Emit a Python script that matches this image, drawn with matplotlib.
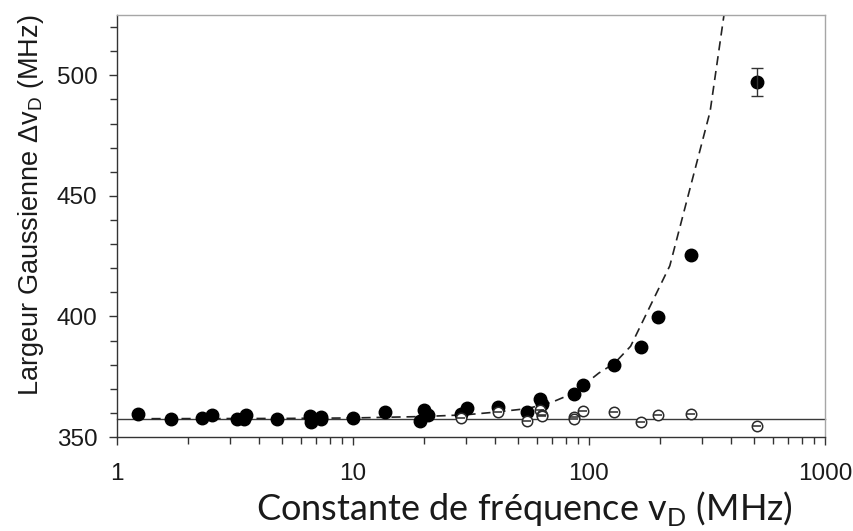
import matplotlib
matplotlib.use("Agg")
import matplotlib.pyplot as plt
from matplotlib.ticker import FixedLocator, NullFormatter, MultipleLocator

# ---- data ----
filled_x = [1.23, 1.69, 2.30, 2.53, 3.21, 3.46, 3.51, 4.75, 6.57, 6.62, 7.30, 7.30,
            10.0, 13.6, 19.2, 19.9, 20.85, 28.6, 30.3, 41.0, 54.4, 62.0, 63.4,
            86.4, 94.0, 128, 166.6, 196, 269.8, 513.6]
filled_y = [359.5, 357.4, 358.0, 359.3, 357.6, 357.5, 359.3, 357.5, 358.7, 356.1, 358.5, 357.4,
            358.0, 360.3, 356.8, 361.2, 359.2, 359.5, 362.0, 362.6, 360.5, 365.8, 363.7,
            367.9, 371.7, 379.7, 387.2, 399.6, 425.4, 497.4]
err_x = [513.6]
err_y = [497.4]
err_val = [5.8]

open_x = [28.6, 41.0, 54.4, 62.0, 63.4, 63.4, 86.4, 86.4, 94.0, 128, 166.6, 196.5, 269.8, 513.6]
open_y = [358.0, 360.3, 356.8, 361.0, 359.3, 358.6, 358.5, 357.6, 360.8, 360.5, 356.4, 359.2, 359.6, 354.7]

model_x = [1.4, 5, 10, 20, 30, 40, 55, 70, 86, 110, 128, 150, 220, 326, 390]
model_y = [357.6, 357.7, 357.9, 358.5, 359.2, 360.3, 361.8, 364.5, 368.2, 376.5, 380.5, 387.6, 421, 485, 538]

baseline = 357.6

x_ticks = [1, 10, 100, 1000]
x_ticklabels = ["1", "10", "100", "1000"]
y_ticks = [350, 400, 450, 500]

# ---- figure ----
fig = plt.figure(figsize=(8.54, 5.31), dpi=100)
ax = fig.add_axes([117/854, 1-437/531, (825-117)/854, (437-15)/531])

ax.set_xscale("log")
ax.set_xlim(1, 1000)
ax.set_ylim(350, 525)

ax.axhline(baseline, color="#3a3a3a", lw=1.0, zorder=1, clip_on=False)
ax.plot(model_x, model_y, ls=(0, (5.5, 3.5)), color="#222222", lw=1.2, zorder=2)

ax.plot(filled_x, filled_y, "o", ms=9, color="black", zorder=3)
ax.errorbar(err_x, err_y, yerr=err_val, fmt="none", ecolor="#333333",
            elinewidth=1.0, capsize=4.5, capthick=1.0, zorder=3)

ax.plot(open_x, open_y, "o", ms=7.5, mfc="white", mec="#2a2a2a", mew=1.1, zorder=4)
ax.plot(open_x, open_y, "_", ms=6, mec="#2a2a2a", mew=1.1, zorder=5)

# spines
for s in ["left", "bottom"]:
    ax.spines[s].set_color("#333333")
    ax.spines[s].set_linewidth(1.0)
for s in ["top", "right"]:
    ax.spines[s].set_color("#a6a6a6")
    ax.spines[s].set_linewidth(1.0)

# ticks
ax.xaxis.set_major_locator(FixedLocator(x_ticks))
ax.set_xticklabels(x_ticklabels)
ax.xaxis.set_minor_locator(FixedLocator([m * d for d in [1, 10, 100] for m in range(2, 10)]))
ax.xaxis.set_minor_formatter(NullFormatter())
ax.yaxis.set_major_locator(FixedLocator(y_ticks))
ax.yaxis.set_minor_locator(MultipleLocator(10))

ax.tick_params(axis="both", which="major", direction="out", length=6, width=1,
               color="#333333", labelcolor="#1a1a1a", pad=13)
ax.tick_params(axis="both", which="minor", direction="out", length=5, width=1, color="#333333")
ax.tick_params(axis="y", which="major", pad=8)
for lab in ax.get_xticklabels() + ax.get_yticklabels():
    lab.set_fontfamily(["Liberation Sans", "DejaVu Sans"])
    lab.set_fontsize(17.5)

ax.set_ylabel("Largeur Gaussienne Δv$_{\\mathregular{D}}$ (MHz)",
              fontfamily=["Liberation Sans", "DejaVu Sans"], fontsize=19.5, color="#1a1a1a")
ax.yaxis.set_label_coords(-0.10, 0.55)
ax.set_xlabel("Constante de fréquence v$_{\\mathregular{D}}$ (MHz)",
              fontfamily=["Lato", "DejaVu Sans"], fontsize=26, color="#1a1a1a")
ax.xaxis.set_label_coords(0.576, -0.124)

fig.savefig("out.png", dpi=100)
